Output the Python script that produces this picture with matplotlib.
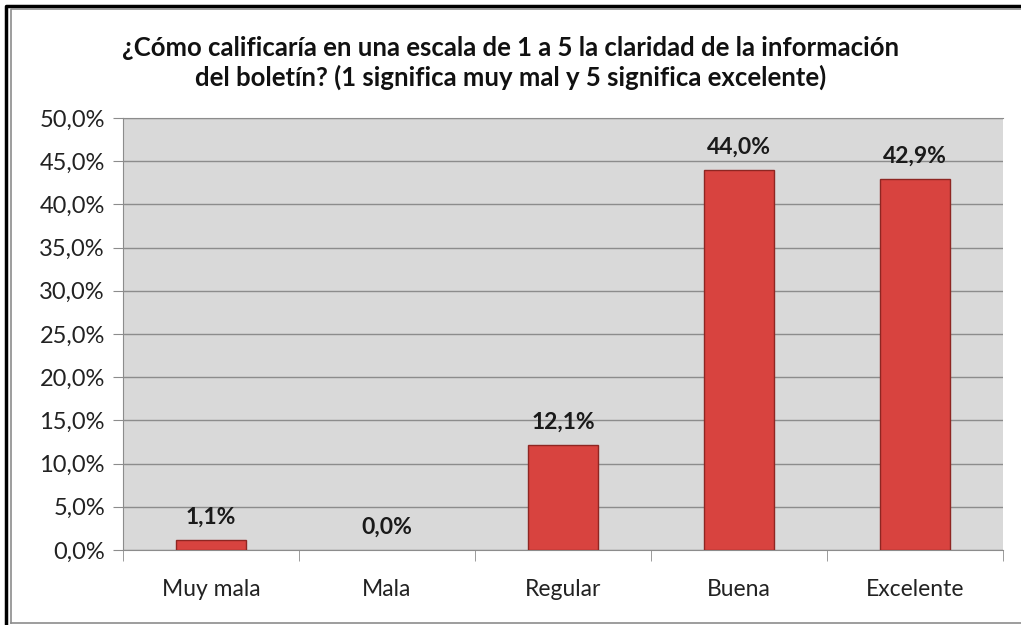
import matplotlib.pyplot as plt
from matplotlib.lines import Line2D
from matplotlib.ticker import FuncFormatter, MultipleLocator

categorias = ['Muy mala', 'Mala', 'Regular', 'Buena', 'Excelente']
porcentajes = [1.1, 0.0, 12.1, 44.0, 42.9]
titulo = ('¿Cómo calificaría en una escala de 1 a 5 la claridad de la información\n'
          'del boletín? (1 significa muy mal y 5 significa excelente)')

plt.rcParams['font.family'] = ['Lato', 'DejaVu Sans']


def pct(v, _pos=None):
    return f'{v:.1f}%'.replace('.', ',')


fig = plt.figure(figsize=(10.21, 6.25), dpi=100)
ax = fig.add_axes([0.1205, 0.12, 0.862, 0.6912])
ax.set_facecolor('#d9d9d9')

x = range(len(categorias))
bordes = ['#8e2622' if v > 0 else 'none' for v in porcentajes]
ax.bar(x, porcentajes, width=0.4, color='#d8433f', edgecolor=bordes,
       linewidth=1.0, zorder=3)
for xi, v in zip(x, porcentajes):
    ax.annotate(pct(v), (xi, v), xytext=(0, 9), textcoords='offset points',
                ha='center', va='bottom', fontsize=16.5, fontweight='bold',
                color='#1a1a1a', zorder=4)

ax.set_xlim(-0.5, len(categorias) - 0.5)
ax.set_ylim(0, 50)
ax.yaxis.set_major_locator(MultipleLocator(5))
ax.yaxis.set_major_formatter(FuncFormatter(pct))
ax.set_xticks(list(x))
ax.set_xticklabels(categorias)
ax.set_xticks([i - 0.5 for i in range(len(categorias) + 1)], minor=True)
ax.tick_params(axis='x', which='major', length=0, pad=21, labelsize=16.5,
               labelcolor='#222222')
ax.tick_params(axis='x', which='minor', length=8, color='#8c8c8c', direction='out')
ax.tick_params(axis='y', length=7, color='#8c8c8c', labelsize=17,
               labelcolor='#222222', pad=6)
ax.grid(axis='y', color='#8c8c8c', linewidth=1.0, zorder=1)
ax.set_axisbelow(True)
for side in ['left', 'bottom', 'top']:
    ax.spines[side].set_color('#8c8c8c')
ax.spines['right'].set_visible(False)

fig.text(0.5, 0.899, titulo, ha='center', va='center', fontsize=18.5,
         fontweight='bold', color='#111111', linespacing=1.25)

# doble marco del grafico
fig.add_artist(Line2D([0.0055, 0.0055, 1.0], [0.0, 0.991, 0.991],
                      color='black', linewidth=2.5))
fig.add_artist(Line2D([0.0105, 0.0105, 1.0], [0.004, 0.985, 0.985],
                      color='#8c8c8c', linewidth=1.2))
fig.add_artist(Line2D([0.0105, 1.0], [0.004, 0.004],
                      color='#8c8c8c', linewidth=1.2))

fig.savefig('out.png', dpi=100)
